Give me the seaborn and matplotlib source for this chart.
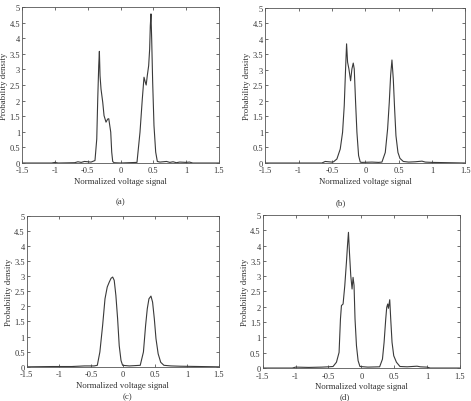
import numpy as np
import pandas as pd
import matplotlib
matplotlib.use("Agg")
import matplotlib.pyplot as plt
import seaborn as sns

# values
a_x = [-1.5, -1.05, -1.0, -0.95, -0.7, -0.65, -0.6, -0.55, -0.45, -0.39, -0.363, -0.348, -0.333, -0.323,
       -0.313, -0.298, -0.272, -0.252, -0.222, -0.196, -0.18, -0.15, -0.135, -0.12, -0.1, 0.0, 0.25,
       0.296, 0.331, 0.357, 0.377, 0.39, 0.407, 0.428, 0.443, 0.453, 0.463, 0.474, 0.489, 0.509, 0.535,
       0.56, 0.6, 0.7, 0.75, 0.8, 0.85, 0.9, 1.0, 1.05, 1.1, 1.5]
a_y = [0.0, 0.0, 0.02, 0.0, 0.01, 0.04, 0.02, 0.05, 0.03, 0.08, 0.77, 2.05, 3.12, 3.58,
       2.8, 2.37, 1.95, 1.52, 1.31, 1.41, 1.42, 0.99, 0.35, 0.05, 0.01, 0.0, 0.02,
       0.99, 2.05, 2.75, 2.59, 2.5, 2.8, 3.12, 3.65, 4.4, 4.78, 3.97, 2.59, 1.2, 0.35,
       0.05, 0.03, 0.05, 0.02, 0.04, 0.01, 0.03, 0.02, 0.03, 0.0, 0.0]

b_x = [-1.5, -0.65, -0.6, -0.55, -0.5, -0.475, -0.425, -0.375, -0.34, -0.315, -0.295, -0.28, -0.265,
       -0.245, -0.22, -0.2, -0.18, -0.165, -0.145, -0.125, -0.1, -0.075, -0.05, 0.1, 0.2, 0.25,
       0.3, 0.335, 0.36, 0.38, 0.4, 0.42, 0.44, 0.46, 0.49, 0.52, 0.57, 0.65, 0.75, 0.85, 0.9, 1.0, 1.5]
b_y = [0.0, 0.0, 0.05, 0.04, 0.03, 0.04, 0.13, 0.45, 0.99, 1.85, 3.03, 3.84, 3.25,
       3.03, 2.65, 3.03, 3.22, 3.03, 1.96, 0.99, 0.24, 0.03, 0.02, 0.03, 0.02, 0.03,
       0.34, 1.1, 1.96, 2.82, 3.32, 2.71, 1.74, 0.88, 0.34, 0.15, 0.05, 0.03, 0.04, 0.06, 0.03, 0.02, 0.0]

c_x = [-1.5, -1.1, -0.8, -0.6, -0.45, -0.4, -0.36, -0.317, -0.28, -0.245, -0.214, -0.185, -0.16,
       -0.136, -0.11, -0.083, -0.058, -0.03, -0.005, 0.1, 0.27, 0.32, 0.354, 0.38, 0.406, 0.4375,
       0.463, 0.49, 0.516, 0.55, 0.59, 0.64, 0.75, 0.9, 1.5]
c_y = [0.0, 0.01, 0.01, 0.03, 0.03, 0.05, 0.49, 1.37, 2.25, 2.64, 2.8, 2.93, 2.97,
       2.86, 2.36, 1.59, 0.7, 0.21, 0.05, 0.03, 0.05, 0.49, 1.37, 1.92, 2.25, 2.34,
       2.14, 1.59, 0.93, 0.43, 0.15, 0.05, 0.03, 0.02, 0.0]

d_x = [-1.5, -1.05, -1.0, -0.8, -0.6, -0.5, -0.43, -0.378, -0.338, -0.317, -0.302, -0.277, -0.251,
       -0.226, -0.21, -0.195, -0.18, -0.16, -0.14, -0.125, -0.11, -0.095, -0.073, -0.048, -0.02,
       0.1, 0.28, 0.323, 0.348, 0.373, 0.388, 0.403, 0.414, 0.434, 0.449, 0.469, 0.495, 0.536,
       0.59, 0.7, 0.85, 0.9, 1.0, 1.05, 1.5]
d_y = [0.0, 0.0, 0.03, 0.02, 0.03, 0.04, 0.05, 0.19, 0.51, 1.6, 2.04, 2.09, 2.69,
       3.45, 3.99, 4.43, 3.78, 3.02, 2.58, 2.96, 2.7, 1.6, 0.73, 0.24, 0.05,
       0.03, 0.04, 0.29, 0.84, 1.6, 1.98, 2.09, 1.95, 2.23, 1.6, 0.84, 0.4, 0.19,
       0.05, 0.04, 0.06, 0.04, 0.03, 0.0, 0.0]

panel_labels = ["(a)", "(b)", "(c)", "(d)"]
x_ticks = [-1.5, -1, -0.5, 0, 0.5, 1, 1.5]
y_ticks = [0, 0.5, 1, 1.5, 2, 2.5, 3, 3.5, 4, 4.5, 5]

sns.set_style("ticks")
plt.rcParams['font.family'] = ['Liberation Serif', 'DejaVu Serif']
plt.rcParams['xtick.direction'] = 'in'
plt.rcParams['ytick.direction'] = 'in'

fig = plt.figure(figsize=(4.71, 4.02), dpi=100)

# axes boxes [left, bottom, width, height]
boxes = [[0.047, 0.592, 0.418, 0.388],
         [0.563, 0.592, 0.425, 0.386],
         [0.057, 0.085, 0.408, 0.376],
         [0.558, 0.082, 0.418, 0.381]]
label_pos = [(0.255, 0.497), (0.724, 0.495), (0.27, 0.011), (0.731, 0.011)]
series = [(a_x, a_y), (b_x, b_y), (c_x, c_y), (d_x, d_y)]

for box, (xs, ys), lab, lp in zip(boxes, series, panel_labels, label_pos):
    ax = fig.add_axes(box)
    df = pd.DataFrame({'v': xs, 'p': ys})
    sns.lineplot(data=df, x='v', y='p', ax=ax, color='#3a3a3a', linewidth=0.8, estimator=None)
    ax.set_xlim(-1.5, 1.5)
    ax.set_ylim(0, 5)
    ax.set_xticks(x_ticks)
    ax.set_yticks(y_ticks)
    ax.set_xticklabels(['%g' % t for t in x_ticks])
    ax.set_yticklabels(['%g' % t for t in y_ticks])
    ax.tick_params(labelsize=6, length=2.5, width=0.5, pad=1.5, top=True, right=True, colors='#333333')
    ax.tick_params(axis='x', pad=2.5)
    for s in ax.spines.values():
        s.set_linewidth(0.6)
        s.set_color('#555555')
    ax.set_xlabel("Normalized voltage signal", fontsize=6.3, labelpad=2, color='#333333')
    ax.set_ylabel("Probability density", fontsize=6.3, labelpad=1, color='#333333')
    fig.text(lp[0], lp[1], lab, fontsize=6.3, ha='center', va='center', color='#333333')

fig.savefig("out.png", dpi=100)
